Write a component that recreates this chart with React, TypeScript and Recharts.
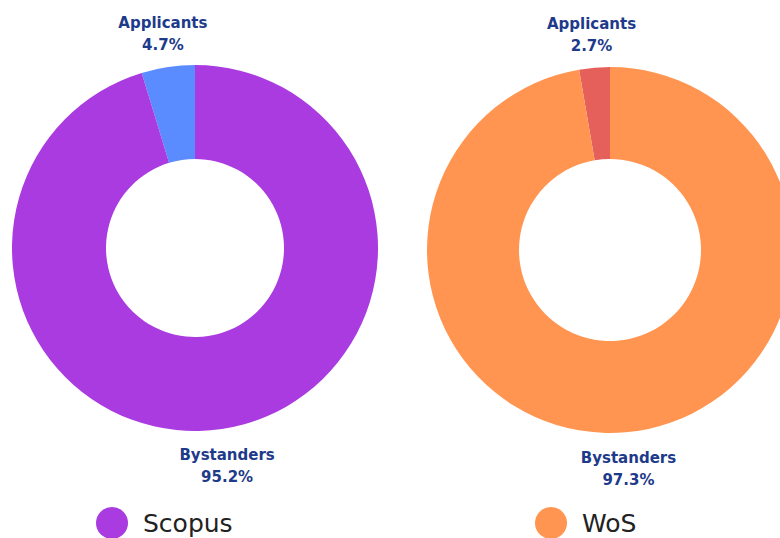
import React from "react";
import { PieChart, Pie, Cell, Legend } from "recharts";

const categories = ["Applicants", "Bystanders"];
const scopusValues = [4.7, 95.2];
const wosValues = [2.7, 97.3];
const scopusColors = ["#5B8CFF", "#A93BE0"];
const wosColors = ["#E5605A", "#FF9550"];
const legendNames = ["Scopus", "WoS"];
const legendColors = ["#A93BE0", "#FF9550"];

const scopusData = categories.map((name, i) => ({ name, value: scopusValues[i] }));
const wosData = categories.map((name, i) => ({ name, value: wosValues[i] }));

const RAD = Math.PI / 180;

const renderLabel = (props: any) => {
  const { cx, cy, midAngle, outerRadius, name, value } = props;
  const r = outerRadius + 35;
  const x = cx + r * Math.cos(-midAngle * RAD);
  const y = cy + r * Math.sin(-midAngle * RAD);
  return (
    <text
      x={x}
      y={y}
      textAnchor="middle"
      fill="#1E3A8A"
      fontFamily="DejaVu Sans, sans-serif"
      fontWeight="bold"
      fontSize={15}
    >
      <tspan x={x} dy={-4}>{name}</tspan>
      <tspan x={x} dy={22}>{value.toFixed(1)}%</tspan>
    </text>
  );
};

const LegendContent = () => (
  <div style={{ position: "relative", width: 780, height: 40 }}>
    {legendNames.map((n, i) => (
      <div
        key={n}
        style={{
          position: "absolute",
          left: i === 0 ? 96 : 535,
          top: 0,
          display: "flex",
          alignItems: "center",
        }}
      >
        <div
          style={{
            width: 32,
            height: 32,
            borderRadius: 16,
            background: legendColors[i],
          }}
        />
        <span
          style={{
            marginLeft: 15,
            fontFamily: "DejaVu Sans, sans-serif",
            fontSize: 25,
            color: "#222",
          }}
        >
          {n}
        </span>
      </div>
    ))}
  </div>
);

export default function App() {
  return (
    <div style={{ position: "absolute", left: 0, top: 0, width: 780, height: 538, background: "#fff", overflow: "hidden" }}>
      <PieChart width={780} height={538} margin={{ top: 0, right: 0, bottom: 0, left: 0 }}>
        <Pie
          data={scopusData}
          dataKey="value"
          nameKey="name"
          cx={195}
          cy={248}
          innerRadius={89}
          outerRadius={183}
          startAngle={90}
          endAngle={450}
          stroke="none"
          label={renderLabel}
          labelLine={false}
          isAnimationActive={false}
        >
          {scopusData.map((d, i) => (
            <Cell key={d.name} fill={scopusColors[i]} />
          ))}
        </Pie>
        <Pie
          data={wosData}
          dataKey="value"
          nameKey="name"
          cx={610}
          cy={250}
          innerRadius={91}
          outerRadius={183}
          startAngle={90}
          endAngle={450}
          stroke="none"
          label={renderLabel}
          labelLine={false}
          isAnimationActive={false}
        >
          {wosData.map((d, i) => (
            <Cell key={d.name} fill={wosColors[i]} />
          ))}
        </Pie>
        <Legend
          content={LegendContent}
          wrapperStyle={{ position: "absolute", left: 0, top: 507, width: 780 }}
        />
      </PieChart>
    </div>
  );
}
